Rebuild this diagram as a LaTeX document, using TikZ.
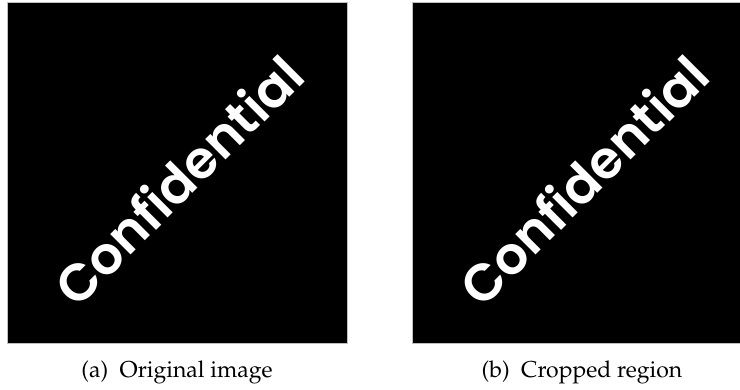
\documentclass[tikz,border=0pt]{standalone}
\usepackage[T1]{fontenc}
\usepackage{fontspec}
\newfontfamily\stampfont{Poppins SemiBold}
% Palatino for the sub-captions
\newcommand\capfont{\fontencoding{T1}\fontfamily{ppl}\fontsize{11.5}{14}\selectfont}
\begin{document}
\begin{tikzpicture}[x=0.5pt,y=-0.5pt,
  panel/.style={fill=black,draw=black!25,line width=0.5pt,inner sep=0pt,
    minimum width=170pt,minimum height=170pt},
  stamp/.style={text=white,rotate=45,inner sep=0pt,
    font=\stampfont\fontsize{26}{26}\selectfont},
  subcap/.style={anchor=base,inner sep=0pt,font=\capfont}]
\useasboundingbox (0,0) rectangle (740,390);
\clip (0,0) rectangle (740,390);
% left panel: the original image
\node[panel] (pa) at (177,173) {};
\node[stamp] (sa) at (178,180) {Confidential};
\node[subcap] (ca) at (177,377) {(a)\enspace Original image};
% right panel: the cropped region
\node[panel] (pb) at (582,173) {};
\node[stamp] (sb) at (583,180) {Confidential};
\node[subcap] (cb) at (582,377) {(b)\enspace Cropped region};
\end{tikzpicture}
\end{document}
